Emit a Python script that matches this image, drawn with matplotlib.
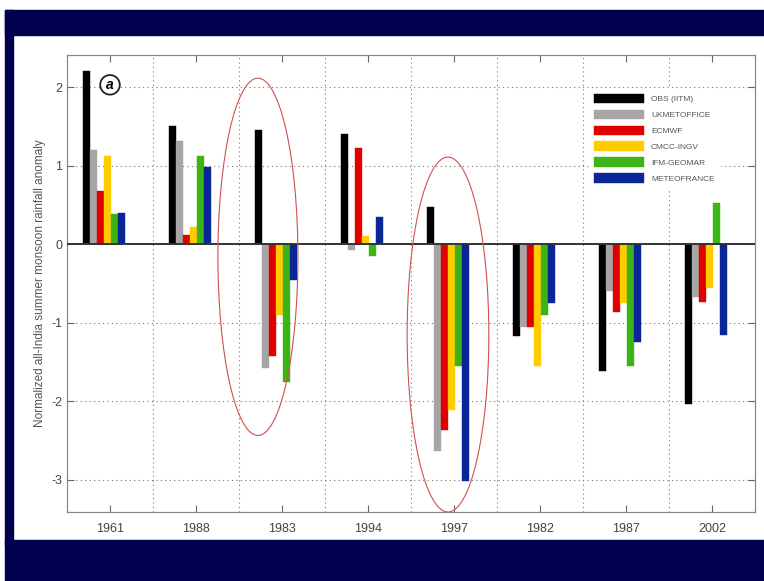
import numpy as np
import matplotlib
matplotlib.use("Agg")
import matplotlib.pyplot as plt
from matplotlib.patches import Ellipse, Rectangle

plt.rcParams['font.family'] = ['Liberation Sans', 'DejaVu Sans']
plt.rcParams['axes.unicode_minus'] = False

years = ['1961', '1988', '1983', '1994', '1997', '1982', '1987', '2002']
series = ['OBS (IITM)', 'UKMETOFFICE', 'ECMWF', 'CMCC-INGV', 'IFM-GEOMAR', 'METEOFRANCE']
colors = ['#000000', '#a6a6a6', '#e00000', '#ffcc00', '#3cb416', '#0a2596']

obs = [2.20, 1.51, 1.46, 1.41, 0.47, -1.17, -1.62, -2.04]
ukmo = [1.20, 1.31, -1.57, -0.07, -2.63, -1.05, -0.60, -0.67]
ecmwf = [0.68, 0.12, -1.42, 1.23, -2.37, -1.06, -0.86, -0.74]
cmcc = [1.13, 0.22, -0.90, 0.11, -2.11, -1.55, -0.75, -0.56]
ifm = [0.39, 1.12, -1.76, -0.15, -1.55, -0.90, -1.55, 0.53]
meteofr = [0.40, 0.98, -0.45, 0.35, -3.01, -0.75, -1.24, -1.16]
values = [obs, ukmo, ecmwf, cmcc, ifm, meteofr]

navy = '#00004e'
fig = plt.figure(figsize=(7.64, 5.81), dpi=100)
W, H = 764.0, 581.0
# slide frame
for (x0, y0, x1, y1) in [(5, 10, 764, 35), (5, 10, 13, 545), (5, 540, 764, 581)]:
    fig.patches.append(Rectangle((x0 / W, 1 - y1 / H), (x1 - x0) / W, (y1 - y0) / H,
                                 transform=fig.transFigure, color=navy, zorder=0))

ax = fig.add_axes([67 / W, 1 - 512 / H, (755 - 67) / W, (512 - 55) / H])

x = np.arange(1, len(years) + 1)
w = 0.081
for i, (name, vals, c) in enumerate(zip(series, values, colors)):
    ax.bar(x + (i - 3.4) * w, vals, width=w, color=c, edgecolor=c, linewidth=0.3,
           label=name, zorder=3)

ax.axhline(0, color='#333333', lw=1.4, zorder=4)

ax.set_xlim(0.5, 8.5)
ax.set_ylim(-3.41, 2.41)
ax.set_xticks(x)
ax.set_xticklabels(years)
ax.set_xticks(x[:-1] + 0.5, minor=True)
ax.set_yticks([-3, -2, -1, 0, 1, 2])
ax.tick_params(axis='both', which='major', direction='in', length=5, top=True, right=True,
               labelsize=9, labelcolor='#444444', color='#666666')
ax.tick_params(axis='x', which='major', pad=8)
ax.tick_params(axis='x', which='minor', length=0)
ax.grid(True, axis='y', which='major', linestyle=(0, (1, 3)), color='#777777', lw=0.8)
ax.grid(True, axis='x', which='minor', linestyle=(0, (1, 3)), color='#777777', lw=0.8)
for s in ax.spines.values():
    s.set_color('#888888')
    s.set_linewidth(0.9)

ax.set_ylabel('Normalized all-India summer monsoon rainfall anomaly', fontsize=8.5,
              color='#555555', labelpad=4)

ax.text(1.0, 2.03, 'a', style='italic', fontweight='bold', fontsize=10, ha='center',
        va='center', zorder=6,
        bbox=dict(boxstyle='circle,pad=0.2', fc='white', ec='#222222', lw=1.3))

# highlighted years
for cx, cy, ew, eh in [(2.72, -0.16, 0.93, 4.55), (4.93, -1.15, 0.95, 4.52)]:
    ax.add_patch(Ellipse((cx, cy), ew, eh, fill=False, ec='#d05050', lw=0.8, zorder=5))

leg = ax.legend(loc='upper left', bbox_to_anchor=(0.753, 0.935), fontsize=6,
                handlelength=6.0, handleheight=1.35, labelspacing=0.77, borderpad=0.6,
                frameon=True, fancybox=False, edgecolor='white', framealpha=1)
for t in leg.get_texts():
    t.set_color('#555555')

fig.savefig('out.png', dpi=100)
